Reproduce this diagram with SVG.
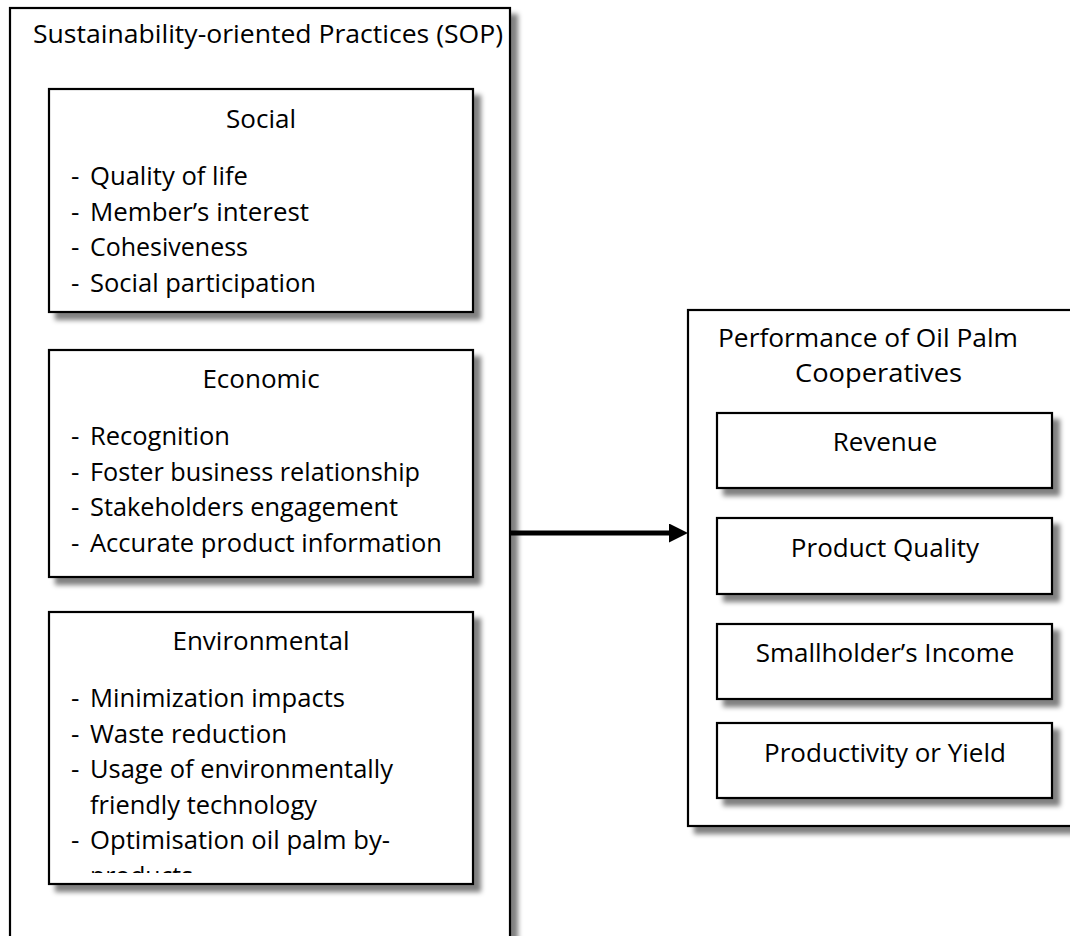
<svg xmlns="http://www.w3.org/2000/svg" width="1070" height="936" viewBox="0 0 1070 936">
<style>
.box{fill:#fff;stroke:#000;stroke-width:2.2;filter:url(#shadow)}
.t{font-family:"Open Sans","Liberation Sans",sans-serif;font-size:26px;fill:#000}
.c{text-anchor:middle}
</style>
<defs>
<filter id="shadow" x="-10%" y="-10%" width="130%" height="130%">
<feGaussianBlur in="SourceAlpha" stdDeviation="2.8" result="b"/>
<feOffset in="b" dx="7" dy="7" result="o"/>
<feComponentTransfer in="o" result="s"><feFuncA type="linear" slope="0.5"/></feComponentTransfer>
<feMerge><feMergeNode in="s"/><feMergeNode in="SourceGraphic"/></feMerge>
</filter>
<marker id="arrow" markerUnits="userSpaceOnUse" markerWidth="20" markerHeight="20" refX="1" refY="9.5" orient="auto">
<path d="M0,0 L19,9.5 L0,19 Z" fill="#000"/>
</marker>
<clipPath id="envclip"><rect x="49" y="612" width="424" height="261"/></clipPath>
</defs>

<g id="sop">
<rect class="box" x="10" y="8" width="500" height="940"/>
<text class="t" x="33" y="43" textLength="470" lengthAdjust="spacingAndGlyphs">Sustainability-oriented Practices (SOP)</text>
</g>

<g id="social">
<rect class="box" x="49" y="89" width="424" height="223"/>
<text class="t c" x="261" y="128">Social</text>
<text class="t" x="71" y="185">-</text><text class="t" x="90" y="185" textLength="158" lengthAdjust="spacingAndGlyphs">Quality of life</text>
<text class="t" x="71" y="220.5">-</text><text class="t" x="90" y="220.5" textLength="219" lengthAdjust="spacingAndGlyphs">Member’s interest</text>
<text class="t" x="71" y="256">-</text><text class="t" x="90" y="256" textLength="158" lengthAdjust="spacingAndGlyphs">Cohesiveness</text>
<text class="t" x="71" y="291.5">-</text><text class="t" x="90" y="291.5" textLength="226" lengthAdjust="spacingAndGlyphs">Social participation</text>
</g>

<g id="economic">
<rect class="box" x="49" y="350" width="424" height="227"/>
<text class="t c" x="261" y="388">Economic</text>
<text class="t" x="71" y="445">-</text><text class="t" x="90" y="445" textLength="140" lengthAdjust="spacingAndGlyphs">Recognition</text>
<text class="t" x="71" y="480.5">-</text><text class="t" x="90" y="480.5" textLength="330" lengthAdjust="spacingAndGlyphs">Foster business relationship</text>
<text class="t" x="71" y="516">-</text><text class="t" x="90" y="516" textLength="308" lengthAdjust="spacingAndGlyphs">Stakeholders engagement</text>
<text class="t" x="71" y="551.5">-</text><text class="t" x="90" y="551.5" textLength="352" lengthAdjust="spacingAndGlyphs">Accurate product information</text>
</g>

<g id="environmental">
<rect class="box" x="49" y="612" width="424" height="272"/>
<text class="t c" x="261" y="650">Environmental</text>
<g clip-path="url(#envclip)">
<text class="t" x="71" y="707">-</text><text class="t" x="90" y="707" textLength="255" lengthAdjust="spacingAndGlyphs">Minimization impacts</text>
<text class="t" x="71" y="742.5">-</text><text class="t" x="90" y="742.5" textLength="197" lengthAdjust="spacingAndGlyphs">Waste reduction</text>
<text class="t" x="71" y="778">-</text><text class="t" x="90" y="778" textLength="303" lengthAdjust="spacingAndGlyphs">Usage of environmentally</text>
<text class="t" x="90" y="813.5" textLength="227" lengthAdjust="spacingAndGlyphs">friendly technology</text>
<text class="t" x="71" y="849">-</text><text class="t" x="90" y="849" textLength="300" lengthAdjust="spacingAndGlyphs">Optimisation oil palm by-</text>
<text class="t" x="90" y="885" textLength="103" lengthAdjust="spacingAndGlyphs">products</text>
</g>
</g>

<g id="performance">
<rect class="box" x="688" y="310" width="400" height="516"/>
<text class="t" x="718" y="347" textLength="300" lengthAdjust="spacingAndGlyphs">Performance of Oil Palm</text>
<text class="t" x="795" y="382" textLength="167" lengthAdjust="spacingAndGlyphs">Cooperatives</text>
</g>

<g id="revenue">
<rect class="box" x="717" y="413" width="335" height="75"/>
<text class="t c" x="885" y="451">Revenue</text>
</g>

<g id="quality">
<rect class="box" x="717" y="518" width="335" height="76"/>
<text class="t c" x="885" y="557">Product Quality</text>
</g>

<g id="income">
<rect class="box" x="717" y="624" width="335" height="75"/>
<text class="t c" x="885" y="662">Smallholder’s Income</text>
</g>

<g id="yield">
<rect class="box" x="717" y="723" width="335" height="75"/>
<text class="t c" x="885" y="762">Productivity or Yield</text>
</g>

<g id="connectors">
<line x1="511" y1="533" x2="670" y2="533" stroke="#000" stroke-width="5" marker-end="url(#arrow)"/>
</g>
</svg>
